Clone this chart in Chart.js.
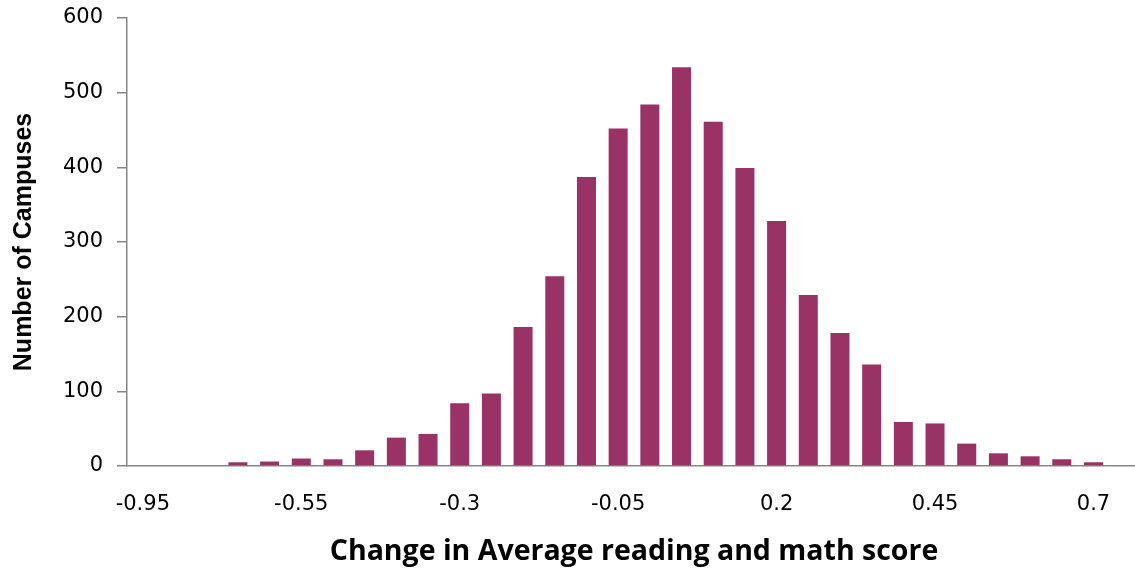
<!DOCTYPE html>
<html>
<head>
<meta charset="utf-8">
<script src="https://cdn.jsdelivr.net/npm/chart.js@4.4.1/dist/chart.umd.min.js"></script>
<style>
  html, body { margin: 0; padding: 0; background: #ffffff; overflow: hidden; width: 1135px; height: 570px; }
  canvas { display: block; }
</style>
</head>
<body>
<canvas id="hist" width="1141" height="570" style="width:1141px;height:570px"></canvas>
<script>
// Score-change bins (every fifth one is labelled on the axis)
const categories = [
  "-0.95", "-0.75", "-0.7", "-0.65", "-0.6", "-0.55", "-0.5", "-0.45", "-0.4", "-0.35",
  "-0.3", "-0.25", "-0.2", "-0.15", "-0.1", "-0.05", "0", "0.05", "0.1", "0.15",
  "0.2", "0.25", "0.3", "0.35", "0.4", "0.45", "0.5", "0.55", "0.6", "0.65",
  "0.7", "0.75"
];

// Number of campuses in each bin
const campusCounts = [
  0, 0, 0, 5, 6, 10, 9, 21, 38, 43,
  84, 97, 186, 254, 387, 452, 484, 534, 461, 399,
  328, 229, 178, 136, 59, 57, 30, 17, 13, 9,
  5, 0
];

const yTickValues = [0, 100, 200, 300, 400, 500, 600];
const labelEvery = 5;

const xAxisTitle = "Change in Average reading and math score";
const yAxisTitle = "Number of Campuses";

const axisGray = "#868686";
const barColor = "#993366";
const tickFont = { family: "'DejaVu Sans', Verdana, sans-serif", size: 21 };

new Chart(document.getElementById("hist"), {
  type: "bar",
  data: {
    labels: categories,
    datasets: [{
      data: campusCounts,
      backgroundColor: barColor,
      borderWidth: 0,
      barPercentage: 0.6,
      categoryPercentage: 1.0
    }]
  },
  options: {
    responsive: false,
    animation: false,
    layout: { padding: { top: 18, left: 0, right: 0, bottom: 0 } },
    plugins: {
      legend: { display: false },
      tooltip: { enabled: false }
    },
    scales: {
      x: {
        grid: { display: true, drawOnChartArea: false, drawTicks: false, color: axisGray, lineWidth: 1.5 },
        border: { display: true, color: axisGray, width: 1.5 },
        ticks: {
          autoSkip: false,
          maxRotation: 0,
          minRotation: 0,
          padding: 26,
          color: "#000000",
          font: tickFont,
          callback: (value, index) => (index % labelEvery === 0 && index < categories.length - 1) ? categories[index] : ""
        },
        title: {
          display: true,
          text: xAxisTitle,
          color: "#000000",
          font: { family: "'Open Sans', sans-serif", weight: "bold", size: 28.5 },
          padding: { top: 0, bottom: 1 }
        },
        afterFit: (scale) => {
          scale.height = 104;
          // the axis runs to the right edge of the canvas
          scale.paddingLeft = 0;
          scale.paddingRight = 0;
        }
      },
      y: {
        min: 0,
        max: 600,
        afterBuildTicks: (scale) => { scale.ticks = yTickValues.map(v => ({ value: v })); },
        grid: { display: true, drawOnChartArea: false, drawTicks: true, tickLength: 10, tickColor: axisGray, tickWidth: 1.5, color: axisGray, lineWidth: 1.5 },
        border: { display: true, color: axisGray, width: 1.5 },
        ticks: { padding: 14, color: "#000000", font: tickFont },
        title: {
          display: true,
          text: yAxisTitle,
          color: "#000000",
          font: { family: "'Liberation Sans', Arial, sans-serif", weight: "bold", size: 25 },
          padding: { top: 9, bottom: 0 }
        },
        afterFit: (scale) => {
          scale.width = 127;
          // the top label fits inside the fixed layout padding
          scale.paddingTop = 0;
          scale.paddingBottom = 0;
        }
      }
    }
  }
});
</script>
</body>
</html>
